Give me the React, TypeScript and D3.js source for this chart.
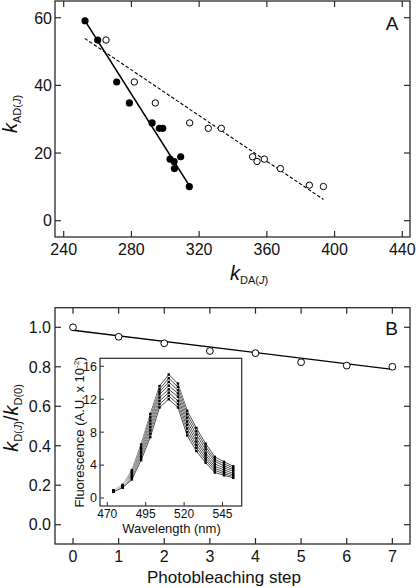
import React from "react";
import * as d3 from "d3";

// ---------- Panel A data ----------
const filledX = [252.6, 260.1, 271.3, 278.8, 292.2, 296.5, 298.5, 302.8, 305.2, 309.1, 305.4, 314.2];
const filledY = [59.1, 53.4, 41.0, 34.8, 28.9, 27.3, 27.3, 18.2, 17.5, 18.9, 15.4, 10.1];
const openX = [265.0, 281.7, 294.1, 314.4, 325.4, 333.1, 351.6, 354.2, 358.5, 368.0, 385.1, 393.4];
const openY = [53.4, 41.0, 34.8, 28.9, 27.3, 27.3, 18.9, 17.5, 18.2, 15.4, 10.5, 10.1];
// fitted lines: [xStart, xEnd, slope, intercept]
const solidFit = [252.8, 315.6, -0.791, 258.9];
const dashedFit = [252.4, 393.4, -0.3376, 139.1];
const aXTicks = [240, 280, 320, 360, 400, 440];
const aYTicks = [0, 20, 40, 60];

// ---------- Panel B data ----------
const steps = [0, 1, 2, 3, 4, 5, 6, 7];
const ratio = [1.0, 0.952, 0.919, 0.88, 0.869, 0.823, 0.806, 0.80];
const bFit = [0, 7, -0.0283, 0.985];
const bYTicks = [0, 0.2, 0.4, 0.6, 0.8, 1.0];

// ---------- Inset data ----------
const wavelengths = [474, 480, 486, 492, 498, 504, 510, 516, 522, 528, 534, 540, 546, 552];
const spec0 = [0.95, 1.6, 3.4, 6.5, 10.2, 13.6, 15.0, 13.9, 10.6, 8.5, 6.6, 5.0, 4.4, 3.85];
const spec1 = [0.92, 1.55, 3.25, 6.2, 9.8, 13.2, 14.55, 13.5, 10.2, 8.1, 6.25, 4.7, 4.15, 3.65];
const spec2 = [0.9, 1.5, 3.1, 5.95, 9.4, 12.9, 14.1, 13.1, 9.75, 7.7, 5.9, 4.45, 3.9, 3.45];
const spec3 = [0.87, 1.45, 2.95, 5.65, 9.0, 12.6, 13.65, 12.7, 9.3, 7.25, 5.5, 4.15, 3.65, 3.25];
const spec4 = [0.85, 1.4, 2.8, 5.4, 8.6, 12.2, 13.2, 12.3, 8.9, 6.85, 5.2, 3.85, 3.4, 3.0];
const spec5 = [0.82, 1.35, 2.6, 5.1, 8.2, 11.8, 12.8, 11.8, 8.45, 6.45, 4.9, 3.6, 3.15, 2.8];
const spec6 = [0.78, 1.3, 2.45, 4.85, 7.8, 11.4, 12.4, 11.4, 8.0, 6.1, 4.6, 3.35, 2.95, 2.6];
const spec7 = [0.75, 1.25, 2.25, 4.6, 7.4, 11.0, 12.0, 11.0, 7.6, 5.7, 4.3, 3.1, 2.75, 2.45];
const spectra = [spec0, spec1, spec2, spec3, spec4, spec5, spec6, spec7];
const insetXTicks = [470, 495, 520, 545];
const insetYTicks = [0, 4, 8, 12, 16];

const FONT = "'Liberation Sans', Arial, sans-serif";
const FRAME = "#2a2a2a";

export default function App() {
  // Panel A scales
  const ax = d3.scaleLinear().domain([234.86, 444.55]).range([55, 410]);
  const ay = d3.scaleLinear().domain([-4.82, 64.94]).range([237, 1]);
  // Panel B scales
  const bx = d3.scaleLinear().domain([-0.395, 7.387]).range([55, 410]);
  const by = d3.scaleLinear().domain([-0.0978, 1.0993]).range([544, 307.7]);
  // Inset scales
  const ix = d3.scaleLinear().domain([465.25, 557.5]).range([100, 241.7]);
  const iy = d3.scaleLinear().domain([-0.97, 16.97]).range([506, 358.3]);

  const T = 6; // tick length
  const line = d3.line<[number, number]>();

  const fitPath = (f: number[], sx: any, sy: any) =>
    line([
      [sx(f[0]), sy(f[2] * f[0] + f[3])],
      [sx(f[1]), sy(f[2] * f[1] + f[3])],
    ]) as string;

  const frame = (x0: number, y0: number, x1: number, y1: number) => (
    <rect x={x0} y={y0} width={x1 - x0} height={y1 - y0} fill="none" stroke={FRAME} strokeWidth={1.3} />
  );

  const specLine = d3
    .line<number>()
    .x((_, i) => ix(wavelengths[i]))
    .y((d) => iy(d));

  return (
    <svg
      width={416}
      height={588}
      style={{ position: "absolute", left: 0, top: 0, background: "#fff" }}
      fontFamily={FONT}
    >
      {/* ================= Panel A ================= */}
      {frame(55, 1, 410, 237)}
      {aXTicks.map((t) => (
        <g key={"ax" + t}>
          <line x1={ax(t)} x2={ax(t)} y1={237} y2={237 - T} stroke={FRAME} strokeWidth={1.2} />
          <line x1={ax(t)} x2={ax(t)} y1={1} y2={1 + T} stroke={FRAME} strokeWidth={1.2} />
          <text x={ax(t)} y={255} fontSize={16} textAnchor="middle" fill="#111">
            {t}
          </text>
        </g>
      ))}
      {aYTicks.map((t) => (
        <g key={"ay" + t}>
          <line x1={55} x2={55 + T} y1={ay(t)} y2={ay(t)} stroke={FRAME} strokeWidth={1.2} />
          <line x1={410} x2={410 - T} y1={ay(t)} y2={ay(t)} stroke={FRAME} strokeWidth={1.2} />
          <text x={52} y={ay(t) + 5.8} fontSize={16} textAnchor="end" fill="#111">
            {t}
          </text>
        </g>
      ))}
      <path d={fitPath(solidFit, ax, ay)} stroke="#000" strokeWidth={1.6} fill="none" />
      <path d={fitPath(dashedFit, ax, ay)} stroke="#000" strokeWidth={1.1} strokeDasharray="3.5,2" fill="none" />
      {filledX.map((x, i) => (
        <circle key={"f" + i} cx={ax(x)} cy={ay(filledY[i])} r={3.6} fill="#000" />
      ))}
      {openX.map((x, i) => (
        <circle key={"o" + i} cx={ax(x)} cy={ay(openY[i])} r={3.2} fill="#fff" stroke="#000" strokeWidth={1} />
      ))}
      <text x={392} y={29.5} fontSize={19} textAnchor="middle" fill="#111">
        A
      </text>
      {/* x label */}
      <text x={230} y={280} fontSize={20} fill="#111">
        <tspan fontStyle="italic">k</tspan>
        <tspan fontSize={11} dy={4}>
          DA(
        </tspan>
        <tspan fontSize={11} fontStyle="italic">
          J
        </tspan>
        <tspan fontSize={11}>)</tspan>
      </text>
      {/* y label */}
      <text transform="translate(17,133) rotate(-90)" fontSize={20} fill="#111">
        <tspan fontStyle="italic">k</tspan>
        <tspan fontSize={11} dy={4}>
          AD(
        </tspan>
        <tspan fontSize={11} fontStyle="italic">
          J
        </tspan>
        <tspan fontSize={11}>)</tspan>
      </text>

      {/* ================= Panel B ================= */}
      {frame(55, 307.7, 410, 544)}
      {steps.map((t) => (
        <g key={"bx" + t}>
          <line x1={bx(t)} x2={bx(t)} y1={544} y2={544 - T} stroke={FRAME} strokeWidth={1.2} />
          <line x1={bx(t)} x2={bx(t)} y1={307.7} y2={307.7 + T} stroke={FRAME} strokeWidth={1.2} />
          <text x={bx(t)} y={562} fontSize={16} textAnchor="middle" fill="#111">
            {t}
          </text>
        </g>
      ))}
      {bYTicks.map((t) => (
        <g key={"by" + t}>
          <line x1={55} x2={55 + T} y1={by(t)} y2={by(t)} stroke={FRAME} strokeWidth={1.2} />
          <line x1={410} x2={410 - T} y1={by(t)} y2={by(t)} stroke={FRAME} strokeWidth={1.2} />
          <text x={51} y={by(t) + 5.8} fontSize={16} textAnchor="end" fill="#111">
            {t.toFixed(1)}
          </text>
        </g>
      ))}
      <path d={fitPath(bFit, bx, by)} stroke="#000" strokeWidth={1.3} fill="none" />
      {steps.map((s, i) => (
        <circle key={"b" + i} cx={bx(s)} cy={by(ratio[i])} r={3.4} fill="#fff" stroke="#000" strokeWidth={1} />
      ))}
      <text x={391.5} y={335} fontSize={19} textAnchor="middle" fill="#111">
        B
      </text>
      <text x={224} y={583} fontSize={17} textAnchor="middle" fill="#111">
        Photobleaching step
      </text>
      <text transform="translate(18,418) rotate(-90)" fontSize={20} textAnchor="middle" fill="#111">
        <tspan fontStyle="italic">k</tspan>
        <tspan fontSize={11} dy={4}>
          D(
        </tspan>
        <tspan fontSize={11} fontStyle="italic">
          J
        </tspan>
        <tspan fontSize={11}>)</tspan>
        <tspan dy={-4}>/</tspan>
        <tspan fontStyle="italic">k</tspan>
        <tspan fontSize={11} dy={4}>
          D(0)
        </tspan>
      </text>

      {/* ================= Inset ================= */}
      <rect x={100} y={358.3} width={141.7} height={147.7} fill="#fff" stroke={FRAME} strokeWidth={1.2} />
      {insetXTicks.map((t) => (
        <g key={"ix" + t}>
          <line x1={ix(t)} x2={ix(t)} y1={506} y2={506 - 4} stroke={FRAME} strokeWidth={1} />
          <text x={ix(t)} y={518} fontSize={12} textAnchor="middle" fill="#111">
            {t}
          </text>
        </g>
      ))}
      {insetYTicks.map((t) => (
        <g key={"iy" + t}>
          <line x1={100} x2={104} y1={iy(t)} y2={iy(t)} stroke={FRAME} strokeWidth={1} />
          <text x={97} y={iy(t) + 4.4} fontSize={12.5} textAnchor="end" fill="#111">
            {t}
          </text>
        </g>
      ))}
      {spectra.map((s, k) => (
        <g key={"s" + k}>
          <path d={specLine(s) as string} fill="none" stroke="#fff" strokeWidth={1.6} />
          <path d={specLine(s) as string} fill="none" stroke="#000" strokeWidth={0.7} />
        </g>
      ))}
      {spectra.map((s, k) =>
        s.map((v, i) => (
          <rect
            key={"m" + k + "-" + i}
            x={ix(wavelengths[i]) - 1.2}
            y={iy(v) - 1.2}
            width={2.4}
            height={2.4}
            fill="#000"
          />
        ))
      )}
      <text x={171.5} y={533} fontSize={13} textAnchor="middle" fill="#111">
        Wavelength (nm)
      </text>
      <text transform="translate(84,432) rotate(-90)" fontSize={13} textAnchor="middle" fill="#111">
        Fluorescence (A.U. x 10
        <tspan fontSize={8} dy={-5}>
          -2
        </tspan>
        <tspan dy={5}>)</tspan>
      </text>
    </svg>
  );
}
